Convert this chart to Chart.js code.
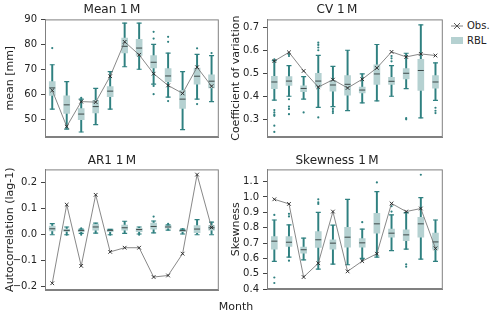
<!DOCTYPE html>
<html>
<head>
<meta charset="utf-8">
<script src="https://cdn.jsdelivr.net/npm/chart.js@4.4.1/dist/chart.umd.min.js"></script>
<style>
  body { margin: 0; width: 500px; height: 323px; background: #fff; position: relative; overflow: hidden; font-family: "DejaVu Sans", sans-serif; }
  canvas { position: absolute; }
  #legend { position: absolute; left: 451px; top: 18px; font-size: 10px; color: #222; }
  #legend div { height: 15px; line-height: 15px; white-space: nowrap; }
  #legend svg { vertical-align: middle; margin-right: 4px; }
  #month { position: absolute; left: 186px; width: 100px; top: 300px; text-align: center; font-size: 11px; color: #222; }
</style>
</head>
<body>
<canvas id="c1" width="224" height="157" style="left:0;top:0"></canvas>
<canvas id="c2" width="222" height="157" style="left:226px;top:0"></canvas>
<canvas id="c3" width="224" height="160" style="left:0;top:150px"></canvas>
<canvas id="c4" width="222" height="159" style="left:226px;top:150px"></canvas>
<div id="legend">
  <div><svg width="12" height="10"><line x1="0" y1="5" x2="12" y2="5" stroke="#666" stroke-width="0.8"/><path d="M3 2L9 8M9 2L3 8" stroke="#333" stroke-width="0.8"/></svg>Obs.</div>
  <div><svg width="12" height="10"><rect x="0" y="1" width="12" height="7" fill="#b5d1d1"/></svg>RBL</div>
</div>
<div id="month">Month</div>
<script>
const months = ['J', 'F', 'M', 'A', 'M', 'J', 'J', 'A', 'S', 'O', 'N', 'D'];

// Mean 1M
const meanLo = [54, 46, 44.8, 47.8, 54, 71, 70, 64, 58.8, 45.8, 58, 57];
const meanQ1 = [59.5, 52.3, 49.8, 52.5, 59, 76.5, 75.5, 70.5, 65, 54.3, 64, 62.5];
const meanMed = [62.5, 55.7, 52, 55, 61.2, 79.2, 78.5, 72.8, 67.3, 58, 67.2, 65.2];
const meanQ3 = [65, 59.3, 54.2, 57.5, 63, 82.5, 82, 75.5, 70.3, 61.5, 70.5, 67.8];
const meanHi = [71.8, 65, 58, 62.3, 69, 88.5, 88.5, 80, 76.5, 69, 76, 75.5];
const meanOut = [[78.5], [], [58.5], [], [], [], [], [85, 82.3, 63.3, 60], [83, 81, 57.2], [], [78.4, 56], [76.5]];
const meanObs = [61.5, 47, 57, 56.8, 67.2, 81, 75.8, 68.2, 63.5, 60.3, 70.8, 63.2];

// CV 1M
const cvLo = [0.383, 0.40, 0.388, 0.352, 0.355, 0.338, 0.371, 0.38, 0.40, 0.433, 0.306, 0.382];
const cvQ1 = [0.433, 0.447, 0.42, 0.44, 0.422, 0.405, 0.415, 0.452, 0.452, 0.475, 0.425, 0.435];
const cvMed = [0.462, 0.466, 0.434, 0.466, 0.449, 0.452, 0.427, 0.497, 0.465, 0.50, 0.512, 0.462];
const cvQ3 = [0.487, 0.485, 0.445, 0.50, 0.468, 0.49, 0.44, 0.537, 0.482, 0.52, 0.56, 0.49];
const cvHi = [0.555, 0.533, 0.485, 0.578, 0.53, 0.60, 0.497, 0.625, 0.533, 0.587, 0.71, 0.545];
const cvOut = [[0.56, 0.34, 0.33, 0.32, 0.315, 0.272, 0.245], [0.583, 0.575, 0.387, 0.355, 0.345, 0.322], [0.33],
    [0.633, 0.623, 0.612, 0.60, 0.308], [0.345, 0.335, 0.327], [], [], [], [0.575, 0.565, 0.552], [0.305, 0.30], [], [0.35, 0.337, 0.327]];
const cvObs = [0.553, 0.591, 0.51, 0.44, 0.472, 0.436, 0.474, 0.523, 0.593, 0.571, 0.584, 0.577];

// AR1 1M
const arLo = [0.0, 0.0, 0.005, 0.006, 0.0, 0.005, 0.003, 0.007, 0.018, 0.003, 0.0, 0.0];
const arQ1 = [0.015, 0.013, 0.012, 0.018, 0.012, 0.018, 0.012, 0.022, 0.025, 0.012, 0.008, 0.018];
const arMed = [0.023, 0.017, 0.016, 0.03, 0.017, 0.027, 0.02, 0.032, 0.03, 0.016, 0.022, 0.027];
const arQ3 = [0.033, 0.022, 0.02, 0.04, 0.022, 0.037, 0.025, 0.045, 0.035, 0.02, 0.035, 0.035];
const arHi = [0.043, 0.03, 0.022, 0.045, 0.021, 0.052, 0.03, 0.053, 0.038, 0.022, 0.058, 0.049];
const arOut = [[], [0.0], [0.025, 0.0], [], [0.0], [], [0.0], [0.07], [0.042], [0.022], [], []];
const arObs = [-0.187, 0.116, -0.12, 0.154, -0.066, -0.05, -0.05, -0.163, -0.157, -0.073, 0.232, 0.028];

// Skewness 1M
const skLo = [0.58, 0.608, 0.59, 0.53, 0.562, 0.558, 0.60, 0.608, 0.65, 0.66, 0.595, 0.58];
const skQ1 = [0.66, 0.677, 0.634, 0.671, 0.66, 0.673, 0.673, 0.764, 0.738, 0.716, 0.738, 0.66];
const skMed = [0.712, 0.705, 0.656, 0.721, 0.699, 0.738, 0.701, 0.825, 0.764, 0.753, 0.825, 0.707];
const skQ3 = [0.742, 0.742, 0.673, 0.775, 0.721, 0.803, 0.729, 0.894, 0.79, 0.786, 0.868, 0.764];
const skHi = [0.85, 0.818, 0.732, 0.90, 0.816, 0.985, 0.79, 1.035, 0.883, 0.898, 0.996, 0.85];
const skOut = [[0.883, 0.475, 0.439], [0.89, 0.873, 0.585], [], [0.985, 0.965, 0.955], [], [], [0.836, 0.59], [1.095], [0.94, 0.905], [0.56, 0.545], [1.145], []];
const skObs = [0.985, 0.955, 0.478, 0.568, 0.905, 0.515, 0.582, 0.63, 0.958, 0.905, 0.925, 0.665];

var teal = "#2f8080";
var boxFill = "#b5d1d1";
var medColor = "#3d4848";
var frameColor = "#808080";
var font = "'DejaVu Sans', sans-serif";

const minus = (s) => String(s).replace('-', '\u2212');

// spine on all four sides like matplotlib
const framePlugin = {
    id: 'frame',
    afterDraw(chart) {
        const a = chart.chartArea;
        const ctx = chart.ctx;
        ctx.save();
        ctx.strokeStyle = frameColor;
        ctx.lineWidth = 1;
        ctx.strokeRect(a.left + 0.5, a.top + 0.5, a.right - a.left - 1, a.bottom - a.top - 1);
        ctx.restore();
    }
};

function toXY(arr) {
    return arr.map((v, i) => ({ x: i, y: v }));
}

function makePanel(id, p) {
    let outliers = [];
    p.out.forEach((list, i) => list.forEach(v => outliers.push({ x: i, y: v })));

    let datasets = [
        { type: 'bar', data: p.lo.map((v, i) => ({ x: i, y: [v, p.hi[i]] })), backgroundColor: teal,
          barThickness: 1.3, grouped: false, order: 6 },
        { type: 'bar', data: p.q1.map((v, i) => ({ x: i, y: [v, p.q3[i]] })), backgroundColor: boxFill,
          barThickness: 6, grouped: false, order: 5 },
        { type: 'scatter', data: toXY(p.hi), pointStyle: 'line', pointRadius: 2.5, pointBorderColor: teal,
          pointBorderWidth: 1.2, order: 4 },
        { type: 'scatter', data: toXY(p.lo), pointStyle: 'line', pointRadius: 2.5, pointBorderColor: teal,
          pointBorderWidth: 1.2, order: 4 },
        { type: 'scatter', data: outliers, pointStyle: 'circle', pointRadius: 1.1, pointBackgroundColor: teal,
          pointBorderColor: teal, pointBorderWidth: 0, order: 3 },
        { type: 'scatter', data: toXY(p.med), pointStyle: 'line', pointRadius: 3, pointBorderColor: medColor,
          pointBorderWidth: 1, order: 2 },
        { type: 'line', data: toXY(p.obs), borderColor: '#6a6a6a', borderWidth: 0.8, pointStyle: 'crossRot',
          pointRadius: 2.6, pointBorderColor: '#222', pointBorderWidth: 0.9, tension: 0, order: 1 }
    ];

    return new Chart(document.getElementById(id), {
        type: 'bar',
        data: { datasets: datasets },
        plugins: [framePlugin],
        options: {
            responsive: false,
            animation: false,
            devicePixelRatio: 1,
            layout: { padding: 0 },
            plugins: {
                legend: { display: false },
                tooltip: { enabled: false },
                title: {
                    display: true, text: p.title, color: '#222',
                    font: { family: font, size: 12, weight: 'normal' },
                    padding: p.titlePad
                }
            },
            scales: {
                x: {
                    type: 'linear', min: -0.5, max: 11.5, offset: false,
                    grid: { display: true, drawOnChartArea: false, tickLength: 4, color: '#444' },
                    border: { color: frameColor },
                    ticks: { stepSize: 1, includeBounds: false, autoSkip: false, maxRotation: 0, padding: 1,
                        color: '#222', font: { family: font, size: 10 },
                        callback: (v) => months[v] },
                    afterBuildTicks: (s) => { s.ticks = s.ticks.filter(t => Number.isInteger(t.value)); },
                    afterFit: (s) => { s.height = 20; }
                },
                y: {
                    min: p.yMin, max: p.yMax,
                    grid: { display: true, drawOnChartArea: false, tickLength: 4, color: '#444' },
                    border: { color: frameColor },
                    ticks: { stepSize: p.step, includeBounds: false, padding: 4, color: '#222',
                        font: { family: font, size: 10 },
                        callback: (v) => minus(v.toFixed(p.dec)) },
                    title: { display: true, text: p.ylabel, color: '#222',
                        font: { family: font, size: 11 }, padding: { top: 4, bottom: 0 } },
                    afterFit: (s) => { s.width = p.yWidth; }
                }
            }
        }
    });
}

window.onload = () => {
    makePanel('c1', { title: 'Mean 1\u2009M', ylabel: 'mean [mm]', lo: meanLo, q1: meanQ1, med: meanMed, q3: meanQ3,
        hi: meanHi, out: meanOut, obs: meanObs, yMin: 42.8, yMax: 90, step: 10, dec: 0, yWidth: 45,
        titlePad: { top: 3, bottom: 2 } });
    makePanel('c2', { title: 'CV 1\u2009M', ylabel: 'Coefficient of variation', lo: cvLo, q1: cvQ1, med: cvMed, q3: cvQ3,
        hi: cvHi, out: cvOut, obs: cvObs, yMin: 0.223, yMax: 0.734, step: 0.1, dec: 1, yWidth: 41,
        titlePad: { top: 3, bottom: 2 } });
    makePanel('c3', { title: 'AR1 1\u2009M', ylabel: 'Autocorrelation (lag-1)', lo: arLo, q1: arQ1, med: arMed, q3: arQ3,
        hi: arHi, out: arOut, obs: arObs, yMin: -0.213, yMax: 0.252, step: 0.1, dec: 1, yWidth: 45,
        titlePad: { top: 4, bottom: 1 } });
    makePanel('c4', { title: 'Skewness 1\u2009M', ylabel: 'Skewness', lo: skLo, q1: skQ1, med: skMed, q3: skQ3,
        hi: skHi, out: skOut, obs: skObs, yMin: 0.4, yMax: 1.18, step: 0.1, dec: 1, yWidth: 41,
        titlePad: { top: 4, bottom: 1 } });
}
</script>
</body>
</html>
